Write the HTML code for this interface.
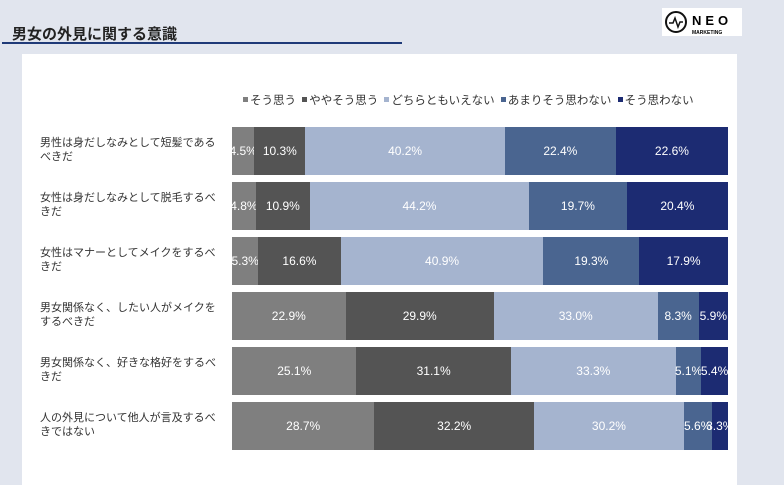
<!DOCTYPE html>
<html><head><meta charset="utf-8"><style>
body{margin:0;width:784px;height:485px;background:#e1e5ee;position:relative;overflow:hidden;font-family:"Liberation Sans","Noto Sans CJK JP",sans-serif;}
.t{position:absolute;left:12px;top:23px;font-size:15px;font-weight:bold;color:#222;}
.ul{position:absolute;left:2px;top:42px;width:400px;height:2px;background:#1f3a78;}
.logo{position:absolute;left:662px;top:8px;width:80px;height:28px;background:#fff;}
.panel{position:absolute;left:22px;top:54px;width:715px;height:431px;background:#fff;}
.lg{position:absolute;left:240px;top:92px;font-size:11.5px;letter-spacing:0;color:#333;white-space:nowrap;}
.lg i{display:inline-block;width:5px;height:5px;margin:0 2px 2px 3px;}
.row{position:absolute;left:232px;width:496px;height:48px;display:flex;}
.row div{height:100%;color:#fff;font-size:12px;display:flex;align-items:center;justify-content:center;white-space:nowrap;overflow:visible;}
.lab{position:absolute;left:40px;width:190px;font-size:11px;line-height:14px;color:#333;}
.c1{background:#7f7f7f}.c2{background:#545454}.c3{background:#a5b4cf}.c4{background:#4a6590}.c5{background:#1c2b72}
</style></head><body>
<div class="t">男女の外見に関する意識</div><div class="ul"></div>
<div class="logo"><svg width="80" height="28"><circle cx="14" cy="14" r="10" fill="none" stroke="#111" stroke-width="2"/><polyline points="7,15 11,15 13,10 16,19 18,14 21,14" fill="none" stroke="#111" stroke-width="1.5"/><text x="30" y="17" font-size="13" font-weight="bold" letter-spacing="4" font-family="Liberation Sans">NEO</text><text x="30" y="26" font-size="5" font-weight="bold" font-family="Liberation Sans">MARKETING</text></svg></div>
<div class="panel"></div>
<div class="lg"><i class="c1"></i>そう思う <i class="c2"></i>ややそう思う <i class="c3"></i>どちらともいえない <i class="c4"></i>あまりそう思わない <i class="c5"></i>そう思わない</div>

<div class="lab" style="top:136px">男性は身だしなみとして短髪である<br>べきだ</div>
<div class="row" style="top:127px"><div class="c1" style="width:4.5%">4.5%</div><div class="c2" style="width:10.3%">10.3%</div><div class="c3" style="width:40.2%">40.2%</div><div class="c4" style="width:22.4%">22.4%</div><div class="c5" style="width:22.6%">22.6%</div></div>

<div class="lab" style="top:191px">女性は身だしなみとして脱毛するべ<br>きだ</div>
<div class="row" style="top:182px"><div class="c1" style="width:4.8%">4.8%</div><div class="c2" style="width:10.9%">10.9%</div><div class="c3" style="width:44.2%">44.2%</div><div class="c4" style="width:19.7%">19.7%</div><div class="c5" style="width:20.4%">20.4%</div></div>

<div class="lab" style="top:246px">女性はマナーとしてメイクをするべ<br>きだ</div>
<div class="row" style="top:237px"><div class="c1" style="width:5.3%">5.3%</div><div class="c2" style="width:16.6%">16.6%</div><div class="c3" style="width:40.9%">40.9%</div><div class="c4" style="width:19.3%">19.3%</div><div class="c5" style="width:17.9%">17.9%</div></div>

<div class="lab" style="top:301px">男女関係なく、したい人がメイクを<br>するべきだ</div>
<div class="row" style="top:292px"><div class="c1" style="width:22.9%">22.9%</div><div class="c2" style="width:29.9%">29.9%</div><div class="c3" style="width:33.0%">33.0%</div><div class="c4" style="width:8.3%">8.3%</div><div class="c5" style="width:5.9%">5.9%</div></div>

<div class="lab" style="top:356px">男女関係なく、好きな格好をするべ<br>きだ</div>
<div class="row" style="top:347px"><div class="c1" style="width:25.1%">25.1%</div><div class="c2" style="width:31.1%">31.1%</div><div class="c3" style="width:33.3%">33.3%</div><div class="c4" style="width:5.1%">5.1%</div><div class="c5" style="width:5.4%">5.4%</div></div>

<div class="lab" style="top:411px">人の外見について他人が言及するべ<br>きではない</div>
<div class="row" style="top:402px"><div class="c1" style="width:28.7%">28.7%</div><div class="c2" style="width:32.2%">32.2%</div><div class="c3" style="width:30.2%">30.2%</div><div class="c4" style="width:5.6%">5.6%</div><div class="c5" style="width:3.3%">3.3%</div></div>
</body></html>
